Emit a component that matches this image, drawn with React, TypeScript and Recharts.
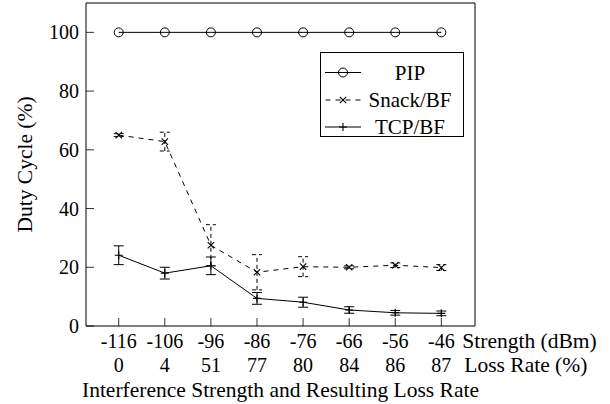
import React from 'react';
import { LineChart, Line, XAxis, YAxis, ErrorBar, Legend } from 'recharts';

const FONT = '"Liberation Serif", "DejaVu Serif", serif';

const strengthLabels = ['-116', '-106', '-96', '-86', '-76', '-66', '-56', '-46'];
const lossRateLabels = ['0', '4', '51', '77', '80', '84', '86', '87'];
const pipValues = [100, 100, 100, 100, 100, 100, 100, 100];
const snackValues = [65, 62.8, 27.5, 18.3, 20.2, 20.0, 20.7, 19.9];
const snackErrors = [0.5, 3.2, 7, 6, 3.4, 0.5, 0.8, 1];
const tcpValues = [24.1, 18.0, 20.5, 9.4, 8.1, 5.45, 4.5, 4.3];
const tcpErrors = [3.2, 2, 3, 2, 1.7, 1.1, 0.8, 0.8];
const yTicks = [0, 20, 40, 60, 80, 100];
const xTicks = strengthLabels.map((_, i) => i);
const seriesNames = ['PIP', 'Snack/BF', 'TCP/BF'];

const data = strengthLabels.map((s, i) => ({
  i,
  pip: pipValues[i],
  snack: snackValues[i],
  snackErr: snackErrors[i],
  tcp: tcpValues[i],
  tcpErr: tcpErrors[i],
}));

const X_DOMAIN: [number, number] = [-0.71, 7.73];
const Y_DOMAIN: [number, number] = [0, 110];

const CircleMark = ({ cx, cy }: any) => (
  <circle cx={cx} cy={cy} r={4.5} fill="none" stroke="#000" strokeWidth={1} />
);
const CrossMark = ({ cx, cy }: any) => (
  <path
    d={`M${cx - 3.2},${cy - 3.2}L${cx + 3.2},${cy + 3.2}M${cx - 3.2},${cy + 3.2}L${cx + 3.2},${cy - 3.2}`}
    stroke="#000"
    strokeWidth={1.1}
    fill="none"
  />
);
const PlusMark = ({ cx, cy }: any) => (
  <path
    d={`M${cx - 4},${cy}L${cx + 4},${cy}M${cx},${cy - 4}L${cx},${cy + 4}`}
    stroke="#000"
    strokeWidth={1.1}
    fill="none"
  />
);

const XTick = (props: any) => {
  const { x, y, payload } = props;
  const i = payload.value;
  const last = strengthLabels.length - 1;
  return (
    <g fontFamily={FONT} fill="#000">
      <text x={x} y={y + 22} textAnchor="middle" fontSize={20}>
        {strengthLabels[i]}
      </text>
      <text x={x} y={y + 45.5} textAnchor="middle" fontSize={20}>
        {lossRateLabels[i]}
      </text>
      {i === last && (
        <>
          <text x={x + 21} y={y + 22} textAnchor="start" fontSize={21.5}>
            Strength (dBm)
          </text>
          <text x={x + 23} y={y + 45.5} textAnchor="start" fontSize={21.5}>
            Loss Rate (%)
          </text>
        </>
      )}
    </g>
  );
};

const YLabel = (props: any) => {
  const vb = props.viewBox || { x: 0, y: 0, width: 0, height: 0 };
  const cx = vb.x + 32;
  const cy = vb.y + vb.height / 2;
  return (
    <text
      x={cx}
      y={cy}
      transform={`rotate(-90 ${cx} ${cy})`}
      textAnchor="middle"
      fontFamily={FONT}
      fontSize={21.5}
      fill="#000"
    >
      Duty Cycle (%)
    </text>
  );
};

const LegendContent = () => {
  const rowY = [19.5, 47, 74];
  return (
    <div
      style={{
        width: 144,
        height: 85,
        border: '1px solid #000',
        boxSizing: 'border-box',
        background: '#fff',
      }}
    >
      <svg width={142} height={83} style={{ display: 'block', overflow: 'visible' }}>
        <line x1={4} x2={40} y1={rowY[0]} y2={rowY[0]} stroke="#000" strokeWidth={1} />
        <CircleMark cx={22} cy={rowY[0]} />
        <line x1={4} x2={40} y1={rowY[1]} y2={rowY[1]} stroke="#000" strokeWidth={1} strokeDasharray="5 5" strokeDashoffset={-0.5} />
        <CrossMark cx={22} cy={rowY[1]} />
        <line x1={4} x2={40} y1={rowY[2]} y2={rowY[2]} stroke="#000" strokeWidth={1} />
        <PlusMark cx={22} cy={rowY[2]} />
        {seriesNames.map((n, k) => (
          <text
            key={n}
            x={89}
            y={rowY[k] + 7}
            textAnchor="middle"
            fontFamily={FONT}
            fontSize={21}
            fill="#000"
          >
            {n}
          </text>
        ))}
      </svg>
    </div>
  );
};

export default function App() {
  const axisStroke = { stroke: '#000', strokeWidth: 1 };
  const tickStroke = { stroke: '#000', strokeWidth: 0.8 };
  return (
    <div style={{ position: 'absolute', left: 0, top: 0, width: 610, height: 404, background: '#fff' }}>
      <LineChart
        width={610}
        height={404}
        data={data}
        margin={{ top: 2, right: 134, bottom: 0, left: 0 }}
      >
        <XAxis
          xAxisId="b"
          dataKey="i"
          type="number"
          domain={X_DOMAIN}
          ticks={xTicks}
          allowDataOverflow
          interval={0}
          height={78}
          axisLine={axisStroke}
          tickLine={tickStroke}
          tickSize={-8}
          tickMargin={8}
          tick={<XTick />}
          label={{
            value: 'Interference Strength and Resulting Loss Rate',
            position: 'insideBottom',
            offset: 7,
            fontSize: 21.5,
            fontFamily: FONT,
            fill: '#000',
          }}
        />
        <XAxis
          xAxisId="t"
          dataKey="i"
          type="number"
          orientation="top"
          domain={X_DOMAIN}
          ticks={xTicks}
          allowDataOverflow
          interval={0}
          height={1}
          axisLine={axisStroke}
          tickLine={tickStroke}
          tickSize={-8}
          tick={false}
        />
        <YAxis
          yAxisId="l"
          domain={Y_DOMAIN}
          ticks={yTicks}
          allowDataOverflow
          interval={0}
          width={86}
          axisLine={axisStroke}
          tickLine={tickStroke}
          tickSize={-8}
          tickMargin={15}
          tick={{ fontSize: 20, fontFamily: FONT, fill: '#000' }}
          label={<YLabel />}
        />
        <YAxis
          yAxisId="r"
          orientation="right"
          domain={Y_DOMAIN}
          ticks={yTicks}
          allowDataOverflow
          interval={0}
          width={1}
          axisLine={axisStroke}
          tickLine={tickStroke}
          tickSize={-8}
          tick={false}
        />
        <Legend
          layout="horizontal"
          verticalAlign="middle"
          align="center"
          content={<LegendContent />}
          wrapperStyle={{ position: 'absolute', left: 320, top: 52, width: 144, height: 85 }}
        />
        <Line
          xAxisId="b"
          yAxisId="l"
          dataKey="pip"
          name="PIP"
          type="linear"
          stroke="#000"
          strokeWidth={1}
          isAnimationActive={false}
          dot={(p: any) => <CircleMark key={`pip-${p.index}`} cx={p.cx} cy={p.cy} />}
          activeDot={false}
        />
        <Line
          xAxisId="b"
          yAxisId="l"
          dataKey="snack"
          name="Snack/BF"
          type="linear"
          stroke="#000"
          strokeWidth={1}
          strokeDasharray="5 5"
          isAnimationActive={false}
          dot={(p: any) => <CrossMark key={`snack-${p.index}`} cx={p.cx} cy={p.cy} />}
          activeDot={false}
        >
          <ErrorBar dataKey="snackErr" width={5} stroke="#000" strokeWidth={1} strokeDasharray="4 3" direction="y" />
        </Line>
        <Line
          xAxisId="b"
          yAxisId="l"
          dataKey="tcp"
          name="TCP/BF"
          type="linear"
          stroke="#000"
          strokeWidth={1}
          isAnimationActive={false}
          dot={(p: any) => <PlusMark key={`tcp-${p.index}`} cx={p.cx} cy={p.cy} />}
          activeDot={false}
        >
          <ErrorBar dataKey="tcpErr" width={5} stroke="#000" strokeWidth={1} direction="y" />
        </Line>
      </LineChart>
    </div>
  );
}
